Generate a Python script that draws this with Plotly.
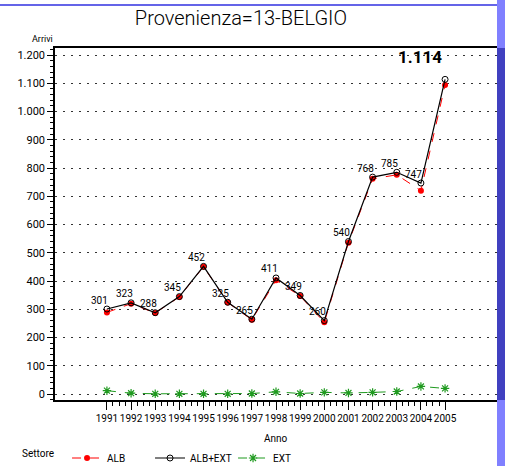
import plotly.graph_objects as go

years = list(range(1991, 2006))
alb_ext = [301, 323, 288, 345, 452, 325, 265, 411, 349, 260, 540, 768, 785, 747, 1114]
alb = [289, 320, 287, 344, 451, 324, 263, 403, 347, 254, 536, 762, 776, 720, 1094]
ext = [12, 3, 1, 1, 1, 1, 2, 8, 2, 6, 4, 6, 9, 27, 20]

FONT = "Roboto, Liberation Sans, sans-serif"

fig = go.Figure()

fig.add_trace(go.Scatter(
    x=years, y=alb, name="ALB", mode="lines+markers",
    line=dict(color="red", width=1, dash="dash"),
    marker=dict(symbol="circle", size=6, color="red"),
))
fig.add_trace(go.Scatter(
    x=years, y=alb_ext, name="ALB+EXT", mode="lines+markers",
    line=dict(color="black", width=1.2),
    marker=dict(symbol="circle-open", size=6, color="black", line=dict(width=1)),
))
fig.add_trace(go.Scatter(
    x=years, y=ext, name="EXT", mode="lines+markers",
    line=dict(color="#1f9a1f", width=1, dash="dash"),
    marker=dict(symbol="asterisk-open", size=7, color="#1f9a1f", line=dict(width=1.2, color="#1f9a1f")),
))

# data labels of the total series (last one drawn big and bold at the top)
for yr, v in zip(years[:-1], alb_ext[:-1]):
    fig.add_annotation(x=yr, y=v, text=f"{v:,}".replace(",", "."), showarrow=False,
                       xshift=-7, yshift=9, font=dict(size=10, color="black", family=FONT))
fig.add_annotation(x=years[-1] - 1.03, y=1193, text=f"{alb_ext[-1]:,}".replace(",", "."),
                   showarrow=False, font=dict(size=17, color="black", family=FONT, weight="bold"))

fig.add_annotation(xref="paper", yref="paper", x=-0.057, y=1.0 + 2 / 352, yanchor="bottom",
                   text="Arrivi", showarrow=False, font=dict(size=9, family=FONT, color="black"))
fig.add_annotation(xref="paper", yref="paper", x=0.5, y=-0.108, yanchor="middle", text="Anno",
                   showarrow=False, font=dict(size=10, family=FONT, color="black"))

# frame decorations
fig.add_shape(type="line", xref="paper", yref="paper", x0=-0.125, x1=1.0, y0=1.122, y1=1.122,
              line=dict(color="#3030e0", width=1.5))
fig.add_shape(type="rect", xref="paper", yref="paper", x0=1.0, x1=1.02, y0=-0.2, y1=1.14,
              line=dict(width=0), fillcolor="#8080ff")
fig.add_shape(type="rect", xref="paper", yref="paper", x0=1.0, x1=1.02, y0=0.0, y1=1.0,
              line=dict(width=0), fillcolor="#4040c0")

minor_x = [y + k * 0.25 for y in years[:-1] for k in (1, 2, 3)]

fig.update_layout(
    width=505, height=466,
    margin=dict(l=55, r=8, t=48, b=66),
    paper_bgcolor="white", plot_bgcolor="white",
    separators=",.",
    hovermode=False,
    font=dict(family=FONT, size=10, color="black"),
    title=dict(text="Provenienza=13-BELGIO", x=0.477, xanchor="center", xref="container",
               y=0.961, yanchor="middle", yref="container",
               font=dict(size=20, family=FONT, color="black", weight=300)),
    xaxis=dict(
        range=[1988.85, 2007.15], tickvals=years, ticks="outside", ticklen=8, tickwidth=1,
        tickcolor="black", showline=True, linecolor="black", linewidth=1.5, mirror=True,
        showgrid=False, zeroline=False, tickfont=dict(size=10), tickangle=0, automargin=False,
        minor=dict(tickmode="array", tickvals=minor_x, ticks="outside", ticklen=4, tickcolor="black"),
    ),
    yaxis=dict(
        range=[-21, 1225], tick0=0, dtick=100, tickformat=",d", ticks="outside", ticklen=6,
        tickcolor="black", showline=True, linecolor="black", linewidth=1.5, automargin=False,
        showgrid=True, gridcolor="#333333", griddash="2px,6px", gridwidth=1, zeroline=False,
        tickfont=dict(size=11),
        minor=dict(dtick=20, ticks="outside", ticklen=3, tickcolor="black", showgrid=False),
    ),
    legend=dict(orientation="h", xref="paper", x=-0.079, xanchor="left",
                yref="container", y=1 - 458 / 466, yanchor="middle",
                title=dict(text="Settore  ", font=dict(size=10)), font=dict(size=10),
                itemwidth=30, entrywidth=38, bgcolor="rgba(0,0,0,0)"),
    showlegend=True,
)

# let the figure fill the 505x466 window exactly (no default page margin)
fig.write_html("out.html", config={"displayModeBar": False},
               post_script="document.body.style.margin='0';")
